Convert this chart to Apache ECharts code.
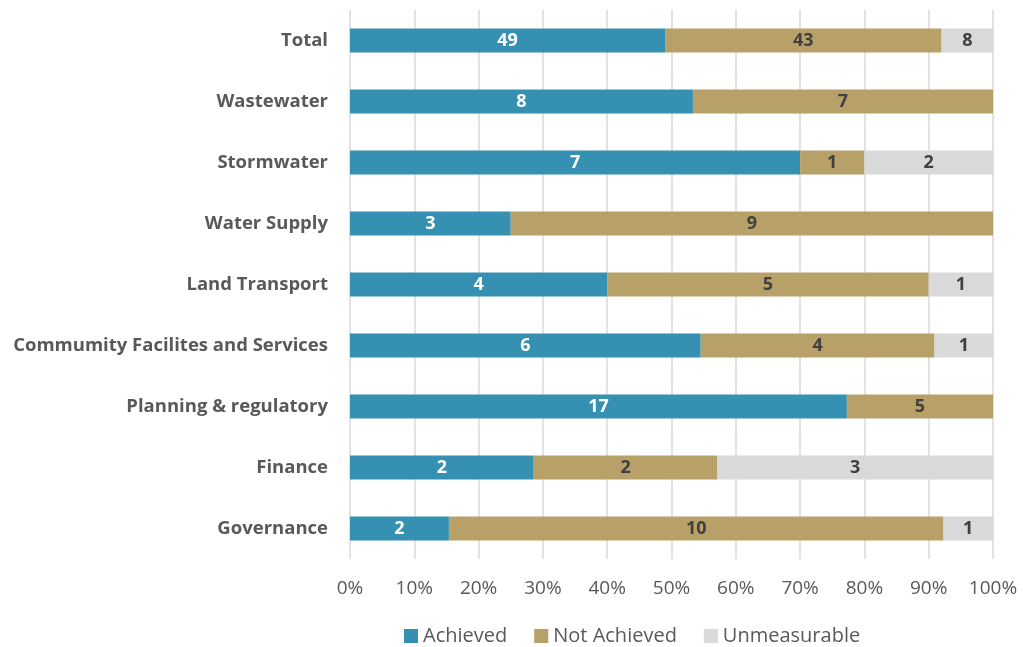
<!DOCTYPE html>
<html>
<head>
<meta charset="utf-8">
<script src="https://cdn.jsdelivr.net/npm/echarts@6/dist/echarts.min.js"></script>
<style>
html,body{margin:0;padding:0;background:#fff;}
#chart{width:1023px;height:647px;}
</style>
</head>
<body>
<div id="chart"></div>
<script>
// Activity groups, top to bottom
const categories = ['Total', 'Wastewater', 'Stormwater', 'Water Supply', 'Land Transport',
  'Commumity Facilites and Services', 'Planning & regulatory', 'Finance', 'Governance'];

// Counts of measures per group
const achieved     = [49, 8, 7, 3, 4, 6, 17, 2, 2];
const notAchieved  = [43, 7, 1, 9, 5, 4, 5, 2, 10];
const unmeasurable = [8, 0, 2, 0, 1, 1, 0, 3, 1];

const seriesNames = ['Achieved', 'Not Achieved', 'Unmeasurable'];
const tickLabels = ['0%', '10%', '20%', '30%', '40%', '50%', '60%', '70%', '80%', '90%', '100%'];

const colors = ['#3690b2', '#b8a169', '#d9d9d9'];
const labelColors = ['#ffffff', '#404040', '#404040'];

const totals = categories.map((_, i) => achieved[i] + notAchieved[i] + unmeasurable[i]);
const counts = [achieved, notAchieved, unmeasurable];

const series = counts.map((arr, s) => ({
  name: seriesNames[s],
  type: 'bar',
  stack: 'all',
  barWidth: 24,
  itemStyle: { color: colors[s] },
  label: {
    show: true,
    position: 'inside',
    color: labelColors[s],
    fontFamily: 'Open Sans',
    fontWeight: 'bold',
    fontSize: 18,
    formatter: p => (arr[p.dataIndex] > 0 ? String(arr[p.dataIndex]) : '')
  },
  data: arr.map((v, i) => v / totals[i] * 100)
}));

const chart = echarts.init(document.getElementById('chart'), null, { renderer: 'canvas' });
chart.setOption({
  animation: false,
  textStyle: { fontFamily: 'Open Sans' },
  grid: { left: 350, right: 30, top: 10, bottom: 88, containLabel: false },
  legend: {
    left: 404,
    bottom: 1,
    padding: 0,
    itemWidth: 14,
    itemHeight: 14,
    itemGap: 27,
    icon: 'rect',
    textStyle: { color: '#595959', fontSize: 20, fontFamily: 'Open Sans' },
    data: seriesNames
  },
  xAxis: {
    type: 'value',
    min: 0,
    max: 100,
    interval: 10,
    axisLine: { show: false },
    axisTick: { show: false },
    splitLine: { show: true, lineStyle: { color: '#d9d9d9', width: 1.5 } },
    axisLabel: {
      color: '#595959',
      fontSize: 19,
      margin: 20,
      formatter: v => tickLabels[Math.round(v / 10)]
    }
  },
  yAxis: {
    type: 'category',
    inverse: true,
    data: categories,
    axisLine: { show: false },
    axisTick: { show: false },
    axisLabel: {
      color: '#595959',
      fontSize: 18.5,
      fontWeight: 'bold',
      margin: 22
    }
  },
  series: series
});
</script>
</body>
</html>
